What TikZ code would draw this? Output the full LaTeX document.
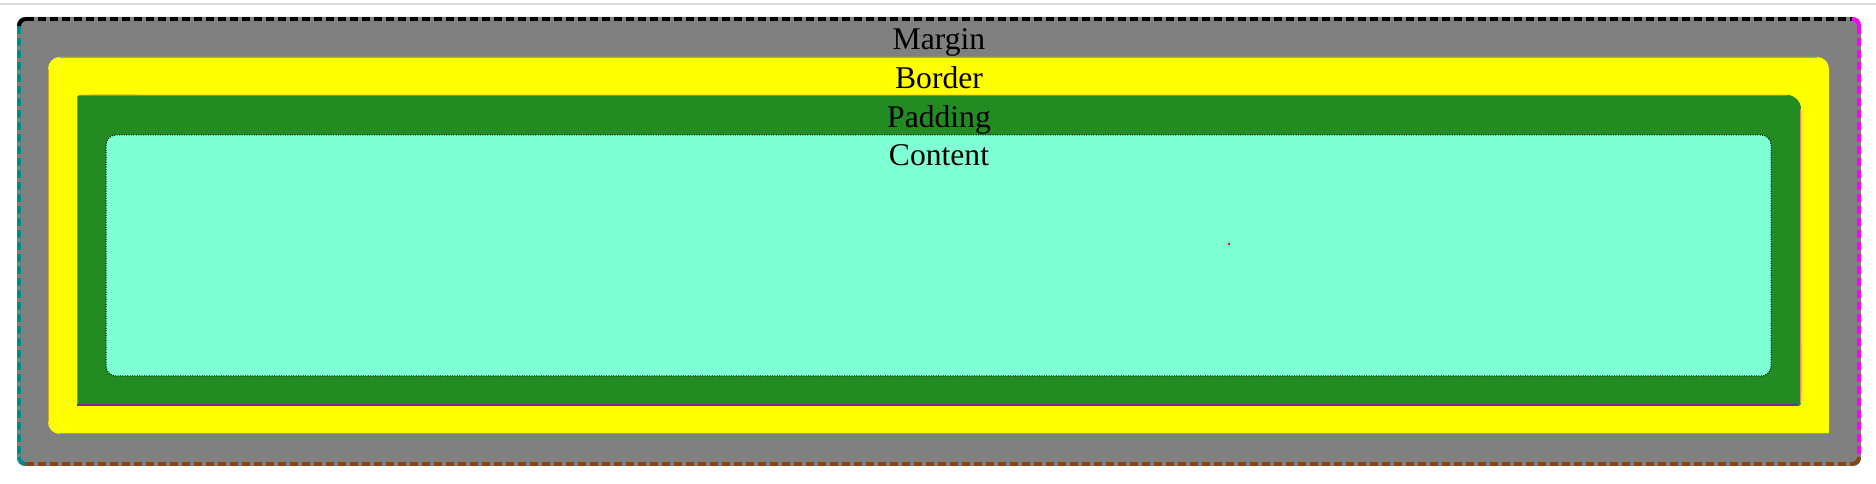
\documentclass[tikz,border=0pt]{standalone}
\usepackage{fontspec}
\setmainfont{Liberation Serif}
\usepackage{tikz}
\definecolor{marginbg}{RGB}{128,128,128}
\definecolor{borderbg}{RGB}{255,255,0}
\definecolor{paddingbg}{RGB}{34,139,34}
\definecolor{contentbg}{RGB}{127,255,212}
\definecolor{mtop}{RGB}{0,0,0}
\definecolor{mleft}{RGB}{0,139,139}
\definecolor{mright}{RGB}{255,0,255}
\definecolor{mbottom}{RGB}{139,69,19}
\definecolor{bedge}{RGB}{110,160,235}
\definecolor{bleft}{RGB}{218,165,32}
\definecolor{ptop}{RGB}{184,134,11}
\definecolor{pleft}{RGB}{100,149,237}
\definecolor{pright}{RGB}{250,128,114}
\definecolor{pbottom}{RGB}{102,51,153}

\begin{document}
\begin{tikzpicture}[
    x=0.25mm, y=-0.25mm,
    mline/.style   = {line width=1mm, dash pattern=on 2mm off 1mm},
    mcorner/.style = {line width=1mm},
    edge/.style    = {line width=0.3mm},
    lbl/.style     = {font=\fontsize{22.5}{27}\selectfont, inner sep=0pt,
                      anchor=base},
  ]
    \useasboundingbox (0,0) rectangle (1876,484);
    \draw[black!15, line width=0.3mm] (0,4) -- (1876,4);

    % margin
    \fill[marginbg, rounded corners=2mm] (17,17) rectangle (1861,466);
    \draw[mline, mtop]    (26,19) -- (1852,19);
    \draw[mline, mleft]   (19,26) -- (19,457);
    \draw[mline, mright]  (1859,26) -- (1859,457);
    \draw[mline, mbottom] (26,464) -- (1852,464);
    \draw[mcorner, mtop]    (19,26) arc[start angle=180, end angle=270, radius=7];
    \draw[mcorner, mright]  (1852,19) arc[start angle=270, end angle=360, radius=7];
    \draw[mcorner, mbottom] (1859,457) arc[start angle=0, end angle=90, radius=7];
    \draw[mcorner, mleft]   (26,464) arc[start angle=90, end angle=180, radius=7];

    % border
    \fill[borderbg, rounded corners=3mm] (48,57) rectangle (1829,434);
    \fill[borderbg] (1790,395) rectangle (1829,434);
    \draw[edge, bedge] (60,57.5) -- (1817,57.5);
    \draw[edge, bedge] (60,433.5) -- (1829,433.5);
    \draw[edge, bleft] (48.5,69) -- (48.5,422);

    % padding
    \fill[paddingbg, rounded corners=3.5mm] (77,95) rectangle (1801,406);
    \fill[paddingbg, rounded corners=0.75mm] (77,95) rectangle (140,160);
    \fill[paddingbg, rounded corners=0.75mm] (1740,340) rectangle (1801,406);
    \fill[paddingbg] (77,340) rectangle (140,406);
    \draw[edge, ptop] (80,95.5) -- (1787,95.5);
    \draw[edge, pleft] (77.5,98) -- (77.5,406);
    \draw[edge, pright] (1800.5,109) -- (1800.5,403);
    \draw[line width=0.5mm, pbottom] (77,405.5) -- (1798,405.5);

    % content
    \filldraw[fill=contentbg, draw=black, densely dotted, line width=0.25mm,
              rounded corners=2.5mm] (106,135) rectangle (1771,376);
    \fill[red] (1228,243) rectangle (1230,245);

    \node[lbl] (lmargin)  at (939,50)  {Margin};
    \node[lbl] (lborder)  at (939,89)  {Border};
    \node[lbl] (lpadding) at (939,128) {Padding};
    \node[lbl] (lcontent) at (939,166) {Content};
  \end{tikzpicture}
\end{document}
